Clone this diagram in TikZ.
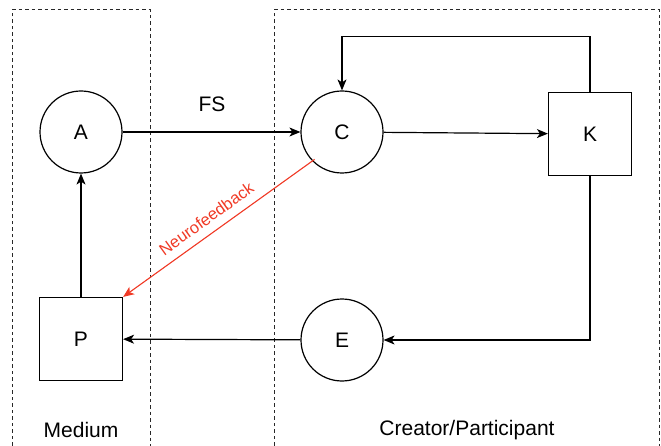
\documentclass[tikz,border=0pt]{standalone}
\usepackage{fontspec}
\setmainfont{Liberation Sans}
\usetikzlibrary{arrows.meta}
\definecolor{nfred}{RGB}{240,58,38}
\definecolor{dashgray}{RGB}{40,40,40}
\begin{document}
\begin{tikzpicture}[x=1pt,y=-1pt,
  txt/.style={font=\fontsize{21}{25}\selectfont},
  circ/.style={draw,circle,minimum size=82pt,inner sep=0pt,line width=1.2pt,txt},
  sq/.style={draw,rectangle,minimum size=83pt,inner sep=0pt,line width=1.2pt,txt},
  conn/.style={line width=1.2pt,-{Stealth[length=11pt,width=9pt,inset=3pt]}},
  region/.style={draw=dashgray,line width=1pt,dash pattern=on 3.5pt off 3pt}
]
\path[use as bounding box] (0,0) rectangle (661,446);
% regions
\draw[region] (12,452) -- (12,10) -- (150,10) -- (150,452);
\draw[region] (274,452) -- (274,10) -- (659,10) -- (659,452);
% nodes
\node[circ] (A) at (81,132) {A};
\node[circ] (C) at (342,132) {C};
\node[sq] (K) at (590,134) {K};
\node[sq] (P) at (81,339) {P};
\node[circ] (E) at (342,340) {E};
\node[txt] (FS) at (212,104) {FS};
\node[txt] (med) at (81,430) {Medium};
\node[txt] (cp) at (467,430) {Creator/Participant};
% connectors
\draw[conn] (A) -- (C);
\draw[conn] (C) -- (K);
\draw[conn] (K.north) -- ++(0,-55) -| (C.north);
\draw[conn] (K.south) |- (E.east);
\draw[conn] (E) -- (P);
\draw[conn] (P) -- (A);
\coordinate (Ptr) at (P.north east);
\draw[conn,draw=nfred,fill=nfred,line width=1.1pt] (C.south west) ++(2,-2) coordinate (cs) -- (Ptr)
  node[pos=0.52,sloped,above=5pt,text=nfred,font=\fontsize{16.5}{19}\selectfont] (nf) {Neurofeedback};
\end{tikzpicture}
\end{document}
